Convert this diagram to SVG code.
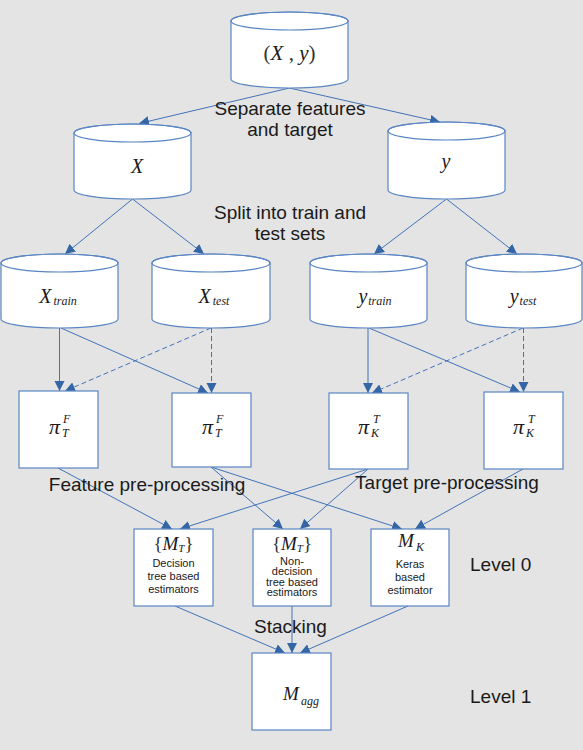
<svg xmlns="http://www.w3.org/2000/svg" width="583" height="750" viewBox="0 0 583 750">
<style>
.bg{fill:#e4e4e4}
.shape{fill:#ffffff;stroke:#5a86c4;stroke-width:1.2}
.rim{fill:none;stroke:#5a86c4;stroke-width:1.2}
.conn{fill:none;stroke:#4273b8;stroke-width:1;marker-end:url(#arr)}
.dash{stroke-dasharray:5,3}
.lbl{font-family:"Liberation Sans",Arial,sans-serif;font-size:19px;fill:#1a1a1a}
.small{font-family:"Liberation Sans",Arial,sans-serif;font-size:11px;fill:#1a1a1a;text-anchor:middle}
.math{font-family:"Liberation Serif","Times New Roman",serif;font-style:italic;fill:#1a1a1a}
.brace{font-family:"Liberation Serif","Times New Roman",serif;font-style:normal;fill:#333333}
</style>
<defs>
<marker id="arr" markerUnits="userSpaceOnUse" markerWidth="11" markerHeight="11" refX="10" refY="5" orient="auto">
<path d="M0,0 L10,5 L0,10 z" fill="#3465a4"/>
</marker>
</defs>
<rect class="bg" x="0" y="0" width="583" height="750"/>

<g id="connectors">
<line class="conn" x1="289.5" y1="88" x2="139" y2="123.5"/>
<line class="conn" x1="289.5" y1="88" x2="440" y2="122"/>
<line class="conn" x1="132.5" y1="199" x2="65" y2="254"/>
<line class="conn" x1="132.5" y1="199" x2="204" y2="254"/>
<line class="conn" x1="446.5" y1="199" x2="374" y2="254"/>
<line class="conn" x1="446.5" y1="199" x2="517" y2="254"/>
<line class="conn" x1="59.5" y1="328" x2="59.5" y2="391"/>
<line class="conn" x1="61" y1="328" x2="208" y2="393"/>
<line class="conn dash" x1="211.5" y1="328" x2="211.5" y2="393"/>
<line class="conn dash" x1="211" y1="328" x2="65" y2="391"/>
<line class="conn" x1="368" y1="328" x2="368" y2="393"/>
<line class="conn" x1="369" y1="328" x2="520" y2="392"/>
<line class="conn dash" x1="523.5" y1="328" x2="523.5" y2="392"/>
<line class="conn dash" x1="523" y1="328" x2="372" y2="393"/>
<line class="conn" x1="58" y1="468" x2="172" y2="529"/>
<line class="conn" x1="368" y1="469" x2="180" y2="529"/>
<line class="conn" x1="211" y1="467" x2="283" y2="529"/>
<line class="conn" x1="368" y1="469" x2="300" y2="529"/>
<line class="conn" x1="211" y1="467" x2="402" y2="529"/>
<line class="conn" x1="523" y1="469" x2="415" y2="529"/>
<line class="conn" x1="175" y1="606" x2="285" y2="653"/>
<line class="conn" x1="292" y1="606" x2="292" y2="653"/>
<line class="conn" x1="408" y1="606" x2="300" y2="653"/>
</g>

<g id="node-Xy">
<path class="shape" d="M231,21 L231,79 A58.5,9 0 0 0 348,79 L348,21 A58.5,9 0 0 0 231,21 Z"/>
<ellipse class="rim" cx="289.5" cy="21" rx="58.5" ry="9"/>
<text x="289.5" y="60" text-anchor="middle" font-size="21"><tspan class="brace">(</tspan><tspan class="math">X</tspan><tspan class="brace"> , </tspan><tspan class="math">y</tspan><tspan class="brace">)</tspan></text>
</g>

<g id="node-X">
<path class="shape" d="M74,133 L74,190 A58.5,9 0 0 0 191,190 L191,133 A58.5,9 0 0 0 74,133 Z"/>
<ellipse class="rim" cx="132.5" cy="133" rx="58.5" ry="9"/>
<text class="math" x="137" y="173" text-anchor="middle" font-size="20">X</text>
</g>

<g id="node-y">
<path class="shape" d="M388,131 L388,190 A58.5,9 0 0 0 505,190 L505,131 A58.5,9 0 0 0 388,131 Z"/>
<ellipse class="rim" cx="446.5" cy="131" rx="58.5" ry="9"/>
<text class="math" x="446" y="168" text-anchor="middle" font-size="20">y</text>
</g>

<g id="node-Xtrain">
<path class="shape" d="M1,263 L1,319 A58.5,9 0 0 0 118,319 L118,263 A58.5,9 0 0 0 1,263 Z"/>
<ellipse class="rim" cx="59.5" cy="263" rx="58.5" ry="9"/>
<text class="math" x="58" y="303" text-anchor="middle" font-size="20">X<tspan dx="2" dy="2" font-size="12">train</tspan></text>
</g>

<g id="node-Xtest">
<path class="shape" d="M152,263 L152,319 A59,9 0 0 0 270,319 L270,263 A59,9 0 0 0 152,263 Z"/>
<ellipse class="rim" cx="211" cy="263" rx="59" ry="9"/>
<text class="math" x="214" y="303" text-anchor="middle" font-size="20">X<tspan dx="2" dy="2" font-size="12">test</tspan></text>
</g>

<g id="node-ytrain">
<path class="shape" d="M310,263 L310,319 A58.5,9 0 0 0 427,319 L427,263 A58.5,9 0 0 0 310,263 Z"/>
<ellipse class="rim" cx="368.5" cy="263" rx="58.5" ry="9"/>
<text class="math" x="375" y="303" text-anchor="middle" font-size="20">y<tspan dx="1" dy="2" font-size="12">train</tspan></text>
</g>

<g id="node-ytest">
<path class="shape" d="M466,263 L466,319 A58,9 0 0 0 582,319 L582,263 A58,9 0 0 0 466,263 Z"/>
<ellipse class="rim" cx="524" cy="263" rx="58" ry="9"/>
<text class="math" x="523" y="303" text-anchor="middle" font-size="20">y<tspan dx="1" dy="2" font-size="12">test</tspan></text>
</g>

<g id="node-piFT1">
<rect class="shape" x="19" y="391" width="79" height="77"/>
<text class="math" x="49" y="434" font-size="22">π</text>
<text class="math" x="63" y="423" font-size="12">F</text>
<text class="math" x="62" y="437" font-size="12">T</text>
</g>

<g id="node-piFT2">
<rect class="shape" x="172" y="393" width="79" height="74"/>
<text class="math" x="202" y="434" font-size="22">π</text>
<text class="math" x="216" y="423" font-size="12">F</text>
<text class="math" x="215" y="437" font-size="12">T</text>
</g>

<g id="node-piTK1">
<rect class="shape" x="329" y="393" width="79" height="76"/>
<text class="math" x="358" y="434" font-size="22">π</text>
<text class="math" x="373" y="423" font-size="12">T</text>
<text class="math" x="371" y="437" font-size="12">K</text>
</g>

<g id="node-piTK2">
<rect class="shape" x="484" y="392" width="79" height="77"/>
<text class="math" x="513" y="434" font-size="22">π</text>
<text class="math" x="528" y="423" font-size="12">T</text>
<text class="math" x="526" y="437" font-size="12">K</text>
</g>

<g id="node-MT1">
<rect class="shape" x="134" y="529" width="79" height="77"/>
<text x="173.5" y="550" text-anchor="middle" font-size="19"><tspan class="brace">{</tspan><tspan class="math" font-size="19">M</tspan><tspan class="math" font-size="11" dy="2">T</tspan><tspan class="brace" dy="-2">}</tspan></text>
<text class="small" x="173.5" y="567">Decision</text>
<text class="small" x="173.5" y="580">tree based</text>
<text class="small" x="173.5" y="592.5">estimators</text>
</g>

<g id="node-MT2">
<rect class="shape" x="253" y="529" width="78" height="77"/>
<text x="292" y="550" text-anchor="middle" font-size="19"><tspan class="brace">{</tspan><tspan class="math" font-size="19">M</tspan><tspan class="math" font-size="11" dy="2">T</tspan><tspan class="brace" dy="-2">}</tspan></text>
<text class="small" x="292" y="564.5">Non-</text>
<text class="small" x="292" y="575">decision</text>
<text class="small" x="292" y="585.5">tree based</text>
<text class="small" x="292" y="596">estimators</text>
</g>

<g id="node-MK">
<rect class="shape" x="371" y="529" width="78" height="77"/>
<text class="math" x="411" y="547" text-anchor="middle" font-size="19">M<tspan dx="2" dy="4" font-size="12">K</tspan></text>
<text class="small" x="410" y="568">Keras</text>
<text class="small" x="410" y="581">based</text>
<text class="small" x="410" y="594">estimator</text>
</g>

<g id="node-Magg">
<rect class="shape" x="252" y="653" width="79" height="77"/>
<text class="math" x="301" y="700" text-anchor="middle" font-size="19">M<tspan dx="2" dy="5" font-size="12">agg</tspan></text>
</g>

<g id="labels">
<text class="lbl" x="290" y="115" text-anchor="middle">Separate features</text>
<text class="lbl" x="290" y="136" text-anchor="middle">and target</text>
<text class="lbl" x="290" y="219" text-anchor="middle">Split into train and</text>
<text class="lbl" x="290" y="240" text-anchor="middle">test sets</text>
<text class="lbl" x="147" y="491" text-anchor="middle">Feature pre-processing</text>
<text class="lbl" x="447" y="489" text-anchor="middle">Target pre-processing</text>
<text class="lbl" x="290.5" y="633" text-anchor="middle">Stacking</text>
<text class="lbl" x="470" y="571">Level 0</text>
<text class="lbl" x="470" y="703">Level 1</text>
</g>
</svg>
